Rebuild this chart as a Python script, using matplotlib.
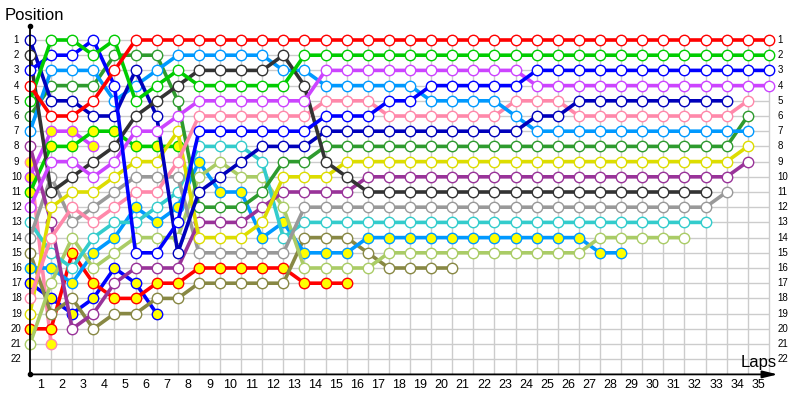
import matplotlib
matplotlib.use("Agg")
import matplotlib.pyplot as plt

plt.rcParams['font.family'] = ['Liberation Sans', 'DejaVu Sans']

# positions per lap, lap 0 = starting grid
red = [4, 6, 6, 5, 3] + [1] * 31
green = [5, 1, 1, 2, 1, 5, 4, 3, 4, 4, 4, 4, 4] + [2] * 23
blue = [3, 2, 2, 1, 4, 15, 15, 13, 7, 7, 7, 7, 7, 7, 6, 6, 6, 5, 5, 4, 4, 4, 4, 4] + [3] * 12
violet = [12, 9, 9, 10, 9, 7, 7, 6, 5, 5, 5, 5, 5, 5] + [3] * 10 + [4] * 12
pink = [18, 14, 12, 13, 12, 11, 11, 9, 6, 6, 6, 6, 6, 6, 5, 5, 5, 6, 6, 6, 6, 6, 6, 5, 5, 5] + [6] * 8 + [5]
dkgreen = [6, 4, 4, 4, 2, 2, 2, 5, 12, 12, 12, 11, 9, 9] + [8] * 20 + [6]
ltblue = [7, 3, 3, 3, 5, 4, 3, 2, 2, 2, 2, 2, 3, 3, 4, 4, 4, 4, 4, 5, 5, 5, 5, 6] + [7] * 11
yellow = [19, 12, 11, 11, 10, 9, 9, 7, 14, 14, 14, 13, 10, 10, 10] + [9] * 19 + [8]
purple = [8, 13, 20, 19, 17, 16, 16, 16, 13, 13, 13, 12, 11, 11, 11, 11] + [10] * 18 + [9]
navy = [1, 5, 5, 6, 6, 3, 6, 15, 11, 10, 9, 8, 8, 8] + [7] * 10 + [6, 6] + [5] * 8
gray = [14, 10, 13, 12, 11, 10, 10, 10, 15, 15, 15, 15, 15] + [12] * 20 + [11]
dkgray = [2, 11, 10, 9, 8, 6, 5, 4, 3, 3, 3, 3, 2, 4, 9, 10] + [11] * 17
cyan = [13, 15, 16, 14, 13, 13, 12, 11, 8, 8, 8, 9, 14] + [13] * 20
ltgreen = [21, 17, 14, 16, 15, 14, 14, 14, 10, 9, 10, 10, 12, 16, 16, 16, 16] + [15] * 10 + [14] * 5
ltblue_y = [16, 16, 17, 15, 14, 12, 13, 12, 9, 11, 11, 14, 13, 15, 15, 15] + [14] * 11 + [15, 15]
olive = [15, 19, 18, 20, 19, 19, 18, 18, 17, 17, 17, 17, 17, 14, 14, 14, 15, 16, 16, 16, 16]
red_y = [20, 20, 15, 17, 18, 18, 17, 17, 16, 16, 16, 16, 16, 17, 17, 17]
green_y = [11, 8, 8, 7, 7, 8, 8, 8]
blue_y = [17, 18, 19, 18, 16, 17, 19]
violet_y = [10, 7, 7, 8]
pink_y = [9, 21]

num_laps = 35
num_pos = 22

# (positions, line colour, marker fill)
drivers = [
    (pink_y, '#FF88AA', '#FFFF00'),
    (violet_y, '#CC44FF', '#FFFF00'),
    (blue_y, '#0000FF', '#FFFF00'),
    (green_y, '#00CC00', '#FFFF00'),
    (red_y, '#FF0000', '#FFFF00'),
    (olive, '#888844', 'white'),
    (ltblue_y, '#0099FF', '#FFFF00'),
    (ltgreen, '#AACC66', 'white'),
    (cyan, '#33CCCC', 'white'),
    (gray, '#999999', 'white'),
    (purple, '#993399', 'white'),
    (yellow, '#DDDD00', 'white'),
    (dkgreen, '#2E9B2E', 'white'),
    (pink, '#FF88AA', 'white'),
    (ltblue, '#0099FF', 'white'),
    (navy, '#0000BB', 'white'),
    (dkgray, '#333333', 'white'),
    (violet, '#CC44FF', 'white'),
    (blue, '#0000FF', 'white'),
    (green, '#00CC00', 'white'),
    (red, '#FF0000', 'white'),
]

fig = plt.figure(figsize=(8, 4), dpi=100)
ax = fig.add_axes([30 / 800, 1 - 374.4 / 400, 760 / 800, 349.6 / 400])
ax.set_xlim(0, 36)
ax.set_ylim(num_pos + 1, 0)
ax.axis('off')

# grid
ax.hlines(range(1, num_pos + 1), 0, num_laps, color='#CCCCCC', lw=1, zorder=0)
ax.vlines(range(1, num_laps + 1), 1, num_pos + 1, color='#CCCCCC', lw=1, zorder=0)

for pos, col, fill in drivers:
    laps = list(range(len(pos)))
    ax.plot(laps, pos, '-', color=col, lw=2.6, zorder=2,
            marker='o', ms=7.5, mfc=fill, mec=col, mew=1.0, clip_on=False)

# axes with arrows
ax.plot([0, 0], [num_pos + 1, 0.1], color='black', lw=1.3, clip_on=False, zorder=3)
ax.plot([0], [0.1], marker='o', ms=3, color='black', clip_on=False, zorder=3)
ax.plot([0], [num_pos + 1], marker='o', ms=3, color='black', clip_on=False, zorder=3)
ax.annotate('', xy=(35.55, num_pos + 1), xytext=(0, num_pos + 1),
            arrowprops=dict(arrowstyle='-|>,head_length=0.9,head_width=0.22',
                            color='black', lw=1.3, mutation_scale=10),
            annotation_clip=False, zorder=3)

# position labels on both sides
for p in range(1, num_pos + 1):
    ax.text(-0.65, p, str(p), ha='center', va='center', fontsize=7, clip_on=False)
    ax.text(35.4, p, str(p), ha='left', va='center', fontsize=7, clip_on=False)

# lap labels between gridlines
for k in range(1, num_laps + 1):
    ax.text(k - 0.5, 23.7, str(k), ha='center', va='center', fontsize=9, clip_on=False)

fig.text(5 / 800, 1 - 15 / 400, 'Position', ha='left', va='center', fontsize=12)
fig.text(759 / 800, 1 - 362 / 400, 'Laps', ha='center', va='center', fontsize=12)

fig.savefig('out.png', dpi=100)
